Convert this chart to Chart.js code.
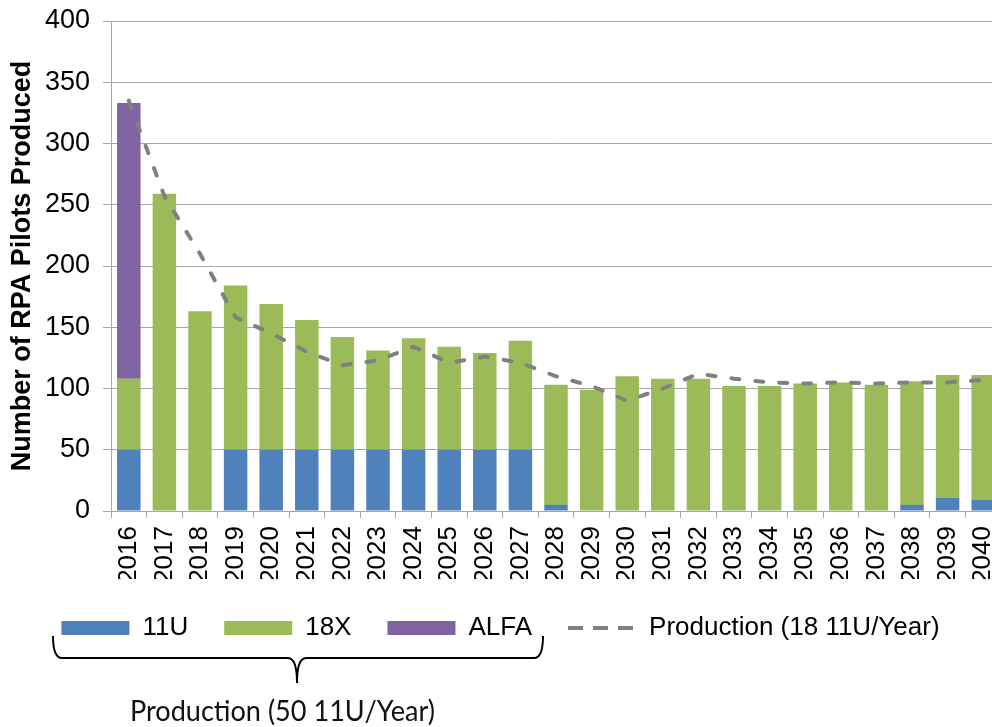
<!DOCTYPE html>
<html>
<head>
<meta charset="utf-8">
<script src="https://cdn.jsdelivr.net/npm/chart.js@4.4.1/dist/chart.umd.min.js"></script>
<style>
  html, body { margin:0; padding:0; background:#fff; overflow:hidden; }
  #wrap { position:relative; width:1001px; height:727px; }
</style>
</head>
<body>
<div id="wrap"><canvas id="chart"></canvas></div>
<script>
// ========== DATA ==========
const years = ['2016','2017','2018','2019','2020','2021','2022','2023','2024','2025','2026','2027','2028',
               '2029','2030','2031','2032','2033','2034','2035','2036','2037','2038','2039','2040'];
const u11   = [50,0,0,50,50,50,50,50,50,50,50,50,5,0,0,0,0,0,0,0,0,0,5,11,9];
const x18   = [58,259,163,134,119,106,92,81,91,84,79,89,98,99,110,108,108,102,102,104,105,103,101,100,102];
const alfa  = [225,0,0,0,0,0,0,0,0,0,0,0,0,0,0,0,0,0,0,0,0,0,0,0,0];
const prod18 = [335,257,210,158,145,130,119,123,134,121,126,121,110,102,90,100,112,108,105,104,105,104,105,105,107];
const yTicks = [0,50,100,150,200,250,300,350,400];

// ========== STYLE ==========
const BLUE = '#4F81BD', GREEN = '#9BBB59', PURPLE = '#8064A2', LINE = '#808080', GRID = '#a6a6a6';
const FONT = "'Liberation Sans', Arial, sans-serif";

// brace + caption under the legend (plain annotation)
const bracePlugin = {
  id: 'brace',
  afterDraw(chart){
    const c = chart.ctx;
    c.save();
    c.strokeStyle = '#000'; c.lineWidth = 2;
    c.beginPath();
    c.moveTo(53, 636);
    c.quadraticCurveTo(53, 658, 62, 658);
    c.lineTo(288, 658);
    c.quadraticCurveTo(297, 658, 297, 683);
    c.quadraticCurveTo(297, 658, 306, 658);
    c.lineTo(534, 658);
    c.quadraticCurveTo(543, 658, 543, 636);
    c.stroke();
    c.fillStyle = '#111';
    c.font = "28px Lato, 'Open Sans', sans-serif";
    c.textBaseline = 'alphabetic';
    const txt = 'Production (50 11U/Year)';
    const w = c.measureText(txt).width;
    c.translate(130, 721);
    c.scale(305 / w, 1);
    c.fillText(txt, 0, 0);
    c.restore();
  }
};

const chart = new Chart(document.getElementById('chart'), {
  type: 'bar',
  data: {
    labels: years,
    datasets: [
      { label:'11U',  data:u11,  backgroundColor:BLUE,   borderWidth:0, stack:'bars', order:1 },
      { label:'18X',  data:x18,  backgroundColor:GREEN,  borderWidth:0, stack:'bars', order:1 },
      { label:'ALFA', data:alfa, backgroundColor:PURPLE, borderWidth:0, stack:'bars', order:1 },
      { type:'line', label:'Production (18 11U/Year)', data:prod18, stack:'line', order:0,
        borderColor:LINE, borderWidth:4, borderDash:[8,16], borderCapStyle:'round',
        pointRadius:0, tension:0, fill:false }
    ]
  },
  plugins: [bracePlugin],
  options: {
    responsive: true,
    maintainAspectRatio: false,
    animation: false,
    layout: { padding: { top: 21, right: 0, left: 0, bottom: 76 } },
    datasets: { bar: { categoryPercentage: 1, barPercentage: 0.66 } },
    scales: {
      x: {
        stacked: true,
        afterFit: s => { s.height = 68; s.paddingLeft = 0; s.paddingRight = 0; },
        grid: { offset: true, drawOnChartArea: false, drawTicks: true, tickLength: 7, color: GRID },
        border: { color: GRID },
        ticks: { autoSkip: false, minRotation: 90, maxRotation: 90, padding: 8,
                 color: '#000', font: { family: FONT, size: 26 } }
      },
      y: {
        stacked: true, min: 0, max: 400,
        afterBuildTicks: s => { s.ticks = yTicks.map(v => ({ value: v })); },
        afterFit: s => { s.width = 111; s.paddingTop = 0; s.paddingBottom = 0; },
        grid: { color: GRID, tickLength: 8 },
        border: { color: GRID },
        ticks: { padding: 13, color: '#000', font: { family: FONT, size: 27 } },
        title: { display: true, text: 'Number of RPA Pilots Produced', color: '#000',
                 padding: { top: 6, bottom: 4 }, font: { family: FONT, size: 27, weight: 'bold' } }
      }
    },
    plugins: {
      tooltip: { enabled: false },
      legend: {
        position: 'bottom',
        labels: {
          usePointStyle: true, pointStyleWidth: 68, boxHeight: 14, padding: 36,
          color: '#000', font: { family: FONT, size: 26 },
          sort: (a, b) => a.datasetIndex - b.datasetIndex,
          generateLabels: ch => ch.data.datasets.map((ds, i) => ds.type === 'line'
            ? { text: ds.label, datasetIndex: i, pointStyle: 'line', strokeStyle: LINE, fillStyle: LINE,
                lineWidth: 4, lineDash: [15, 10], lineCap: 'butt', hidden: false }
            : { text: ds.label, datasetIndex: i, pointStyle: 'rect', fillStyle: ds.backgroundColor,
                strokeStyle: ds.backgroundColor, lineWidth: 0, hidden: false })
        }
      }
    }
  }
});
</script>
</body>
</html>
